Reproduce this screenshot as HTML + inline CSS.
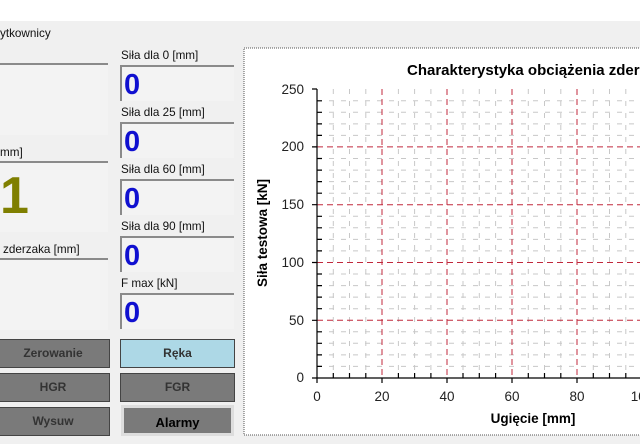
<!DOCTYPE html>
<html><head><meta charset="utf-8"><style>
body{margin:0;width:640px;height:444px;overflow:hidden;background:#f0f0f0;font-family:"Liberation Sans",Arial,sans-serif;position:relative}
.a{position:absolute}
.lbl{font-size:11.7px;color:#111}
.box{position:absolute;background:#f3f3f3;border-top:2px solid #8a8a8a;border-left:2px solid #8a8a8a;box-sizing:border-box}
.num{position:absolute;left:2px;top:1px;font-size:29px;font-weight:bold;color:#1010d0;line-height:34px}
.btn{position:absolute;background:#7a7a7a;border:1px solid #444;box-sizing:border-box;font-size:12px;font-weight:bold;color:#333;text-align:center}
</style></head><body>
<div class="a" style="left:0;top:0;width:640px;height:21px;background:#fff"></div>
<div class="a lbl" style="left:0;top:27px">ytkownicy</div>

<div class="box" style="left:-2px;top:63px;width:110px;height:72px;border-left:none"></div>
<div class="a lbl" style="left:0;top:146px">mm]</div>
<div class="box" style="left:-2px;top:161px;width:110px;height:71px;border-left:none"></div>
<div class="a" style="left:0;top:164px;font-size:52px;font-weight:bold;color:#7f7f00;line-height:64px">1</div>
<div class="a lbl" style="left:3px;top:243px">zderzaka [mm]</div>
<div class="box" style="left:-2px;top:258px;width:110px;height:72px;border-left:none"></div>

<div class="a lbl" style="left:121px;top:49px">Siła dla 0 [mm]</div>
<div class="box" style="left:120px;top:65px;width:114px;height:36px"><div class="num">0</div></div>
<div class="a lbl" style="left:121px;top:106px">Siła dla 25 [mm]</div>
<div class="box" style="left:120px;top:122px;width:114px;height:36px"><div class="num">0</div></div>
<div class="a lbl" style="left:121px;top:163px">Siła dla 60 [mm]</div>
<div class="box" style="left:120px;top:179px;width:114px;height:36px"><div class="num">0</div></div>
<div class="a lbl" style="left:121px;top:220px">Siła dla 90 [mm]</div>
<div class="box" style="left:120px;top:236px;width:114px;height:36px"><div class="num">0</div></div>
<div class="a lbl" style="left:121px;top:277px">F max [kN]</div>
<div class="box" style="left:120px;top:293px;width:114px;height:36px"><div class="num">0</div></div>

<div class="btn" style="left:-4px;top:339px;width:114px;height:29px;line-height:27px">Zerowanie</div>
<div class="btn" style="left:-4px;top:373px;width:114px;height:29px;line-height:27px">HGR</div>
<div class="btn" style="left:-4px;top:407px;width:114px;height:29px;line-height:27px">Wysuw</div>
<div class="btn" style="left:120px;top:339px;width:115px;height:29px;line-height:27px;background:#add8e6;color:#333">Ręka</div>
<div class="btn" style="left:120px;top:373px;width:115px;height:29px;line-height:27px">FGR</div>
<div class="btn" style="left:121px;top:405px;width:113px;height:31px;line-height:29px;border:3px solid #ddd;color:#000;font-size:13px">Alarmy</div>

<svg class="a" style="left:0;top:0" width="640" height="444" font-family="Liberation Sans, Arial, sans-serif">
<rect x="244" y="48" width="400" height="387" fill="#fff" stroke="#555" stroke-dasharray="1,1"/>
<text x="407" y="75" font-size="15" font-weight="bold">Charakterystyka obciążenia zderzaka</text>
<g stroke="#c8c8c8" stroke-width="1" stroke-dasharray="5,7">
<path d="M333.3 89V378M349.5 89V378M365.8 89V378M398.4 89V378M414.6 89V378M430.9 89V378M463 89V378M479.3 89V378M495.6 89V378M528.3 89V378M544.5 89V378M560.8 89V378M593.3 89V378M609.5 89V378M625.8 89V378"/>
<path d="M317 366.4H640M317 354.9H640M317 343.3H640M317 331.8H640M317 308.7H640M317 297.1H640M317 285.6H640M317 274H640M317 250.9H640M317 239.4H640M317 227.8H640M317 216.3H640M317 193.2H640M317 181.6H640M317 170.1H640M317 158.5H640M317 135.4H640M317 123.9H640M317 112.3H640M317 100.8H640"/>
</g>
<g stroke="#c0283c" stroke-width="1" stroke-dasharray="6,4">
<path d="M382 89V378M447 89V378M512 89V378M577 89V378"/>
<path d="M317 320.3H640M317 262.5H640M317 204.7H640M317 146.9H640"/>
</g>
<g stroke="#000" stroke-width="1.2">
<path d="M317 89V378M317 378H640"/>
<path d="M312 378H317M312 320.3H317M312 262.5H317M312 204.7H317M312 146.9H317M312 89H317"/>
<path d="M317 366.4H322M317 354.9H322M317 343.3H322M317 331.8H322M317 308.7H322M317 297.1H322M317 285.6H322M317 274H322M317 250.9H322M317 239.4H322M317 227.8H322M317 216.3H322M317 193.2H322M317 181.6H322M317 170.1H322M317 158.5H322M317 135.4H322M317 123.9H322M317 112.3H322M317 100.8H322"/>
<path d="M317 378V383M382 378V383M447 378V383M512 378V383M577 378V383M333.3 373V378M349.5 373V378M365.8 373V378M398.4 373V378M414.6 373V378M430.9 373V378M463 373V378M479.3 373V378M495.6 373V378M528.3 373V378M544.5 373V378M560.8 373V378M593.3 373V378M609.5 373V378M625.8 373V378"/>
</g>
<g font-size="13.5" fill="#222" text-anchor="end">
<text x="304" y="382">0</text><text x="304" y="325">50</text><text x="304" y="267">100</text><text x="304" y="209">150</text><text x="304" y="151">200</text><text x="304" y="94">250</text>
</g>
<g font-size="13.5" fill="#222" text-anchor="middle">
<text x="317" y="401">0</text><text x="382" y="401">20</text><text x="447" y="401">40</text><text x="512" y="401">60</text><text x="577" y="401">80</text><text x="642" y="401">100</text>
</g>
<text x="533" y="423" font-size="13.5" font-weight="bold" text-anchor="middle">Ugięcie [mm]</text>
<text transform="translate(267,233) rotate(-90)" font-size="13.5" font-weight="bold" text-anchor="middle">Siła testowa [kN]</text>
</svg>
</body></html>
